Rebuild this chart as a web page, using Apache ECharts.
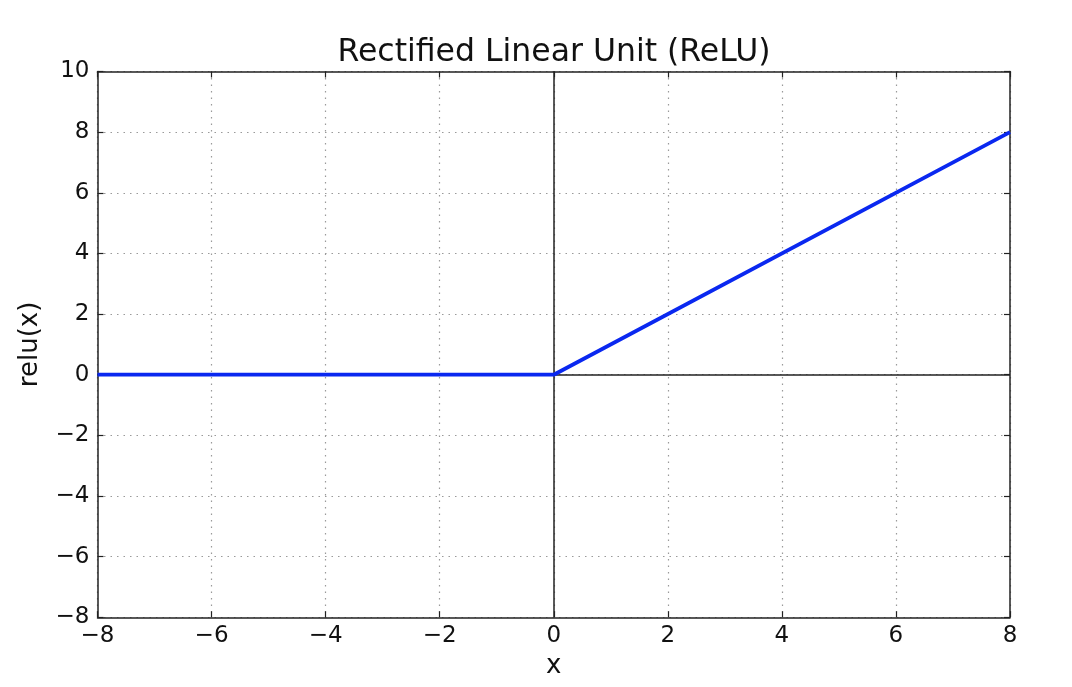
<!DOCTYPE html>
<html>
<head>
<meta charset="utf-8">
<script src="https://cdn.jsdelivr.net/npm/echarts@6/dist/echarts.min.js"></script>
<style>
html,body{margin:0;padding:0;background:#fff;}
#chart{width:1072px;height:687px;}
</style>
</head>
<body>
<div id="chart"></div>
<script>
// Data
var titleText = 'Rectified Linear Unit (ReLU)';
var xName = 'x';
var yName = 'relu(x)';
var xTicks = [-8, -6, -4, -2, 0, 2, 4, 6, 8];
var yTicks = [-8, -6, -4, -2, 0, 2, 4, 6, 8, 10];
var reluX = [-8, 0, 8];
var reluY = [0, 0, 8];

var FONT = 'DejaVu Sans';
function fmt(v){ return String(v).replace('-', '\u2212'); }

var lineData = reluX.map(function(x, i){ return [x, reluY[i]]; });

var axisLineStyle = {color: '#222', width: 1.5};
var tickStyle = {show: true, inside: true, length: 6, lineStyle: {color: '#222', width: 1.2}};
var gridLine = {show: true, lineStyle: {color: '#9a9a9a', type: [1.5, 5], width: 1.2}};

var xBase = {
  type: 'value', min: xTicks[0], max: xTicks[xTicks.length - 1], interval: 2,
  axisLine: {show: true, onZero: false, lineStyle: axisLineStyle},
  axisTick: tickStyle
};
var yBase = {
  type: 'value', min: yTicks[0], max: yTicks[yTicks.length - 1], interval: 2,
  axisLine: {show: true, onZero: false, lineStyle: axisLineStyle},
  axisTick: tickStyle
};

var option = {
  animation: false,
  backgroundColor: '#fff',
  title: {
    text: titleText, left: 549, top: 32, textAlign: 'center',
    textStyle: {fontFamily: FONT, fontSize: 31.5, fontWeight: 'normal', color: '#111'}
  },
  grid: {left: 97.5, right: 62, top: 71.5, bottom: 69.7, containLabel: false},
  xAxis: [
    Object.assign({}, xBase, {
      position: 'bottom',
      name: xName, nameLocation: 'middle', nameGap: 36,
      nameTextStyle: {fontFamily: FONT, fontSize: 26, color: '#111'},
      axisLabel: {show: true, margin: 7, fontFamily: FONT, fontSize: 23, color: '#111', formatter: fmt},
      splitLine: gridLine
    }),
    Object.assign({}, xBase, {
      position: 'top',
      axisLabel: {show: false},
      splitLine: {show: false}
    })
  ],
  yAxis: [
    Object.assign({}, yBase, {
      position: 'left',
      name: yName, nameLocation: 'middle', nameGap: 54,
      nameTextStyle: {fontFamily: FONT, fontSize: 26, color: '#111'},
      axisLabel: {show: true, margin: 8, fontFamily: FONT, fontSize: 23, color: '#111', formatter: fmt},
      splitLine: gridLine
    }),
    Object.assign({}, yBase, {
      position: 'right',
      axisLabel: {show: false},
      splitLine: {show: false}
    })
  ],
  series: [
    {
      name: 'zero', type: 'line', data: [], z: 1,
      xAxisIndex: 0, yAxisIndex: 0,
      markLine: {
        silent: true, symbol: 'none', animation: false,
        label: {show: false},
        lineStyle: {color: '#222', width: 1.5, type: 'solid'},
        data: [{xAxis: 0}, {yAxis: 0}]
      }
    },
    {
      name: 'relu', type: 'line', data: lineData, z: 5,
      xAxisIndex: 0, yAxisIndex: 0,
      showSymbol: false, symbol: 'none',
      lineStyle: {color: '#0a28f0', width: 3.8},
      itemStyle: {color: '#0a28f0'}
    }
  ]
};

var chart = echarts.init(document.getElementById('chart'), null, {renderer: 'canvas'});
chart.setOption(option);
</script>
</body>
</html>
